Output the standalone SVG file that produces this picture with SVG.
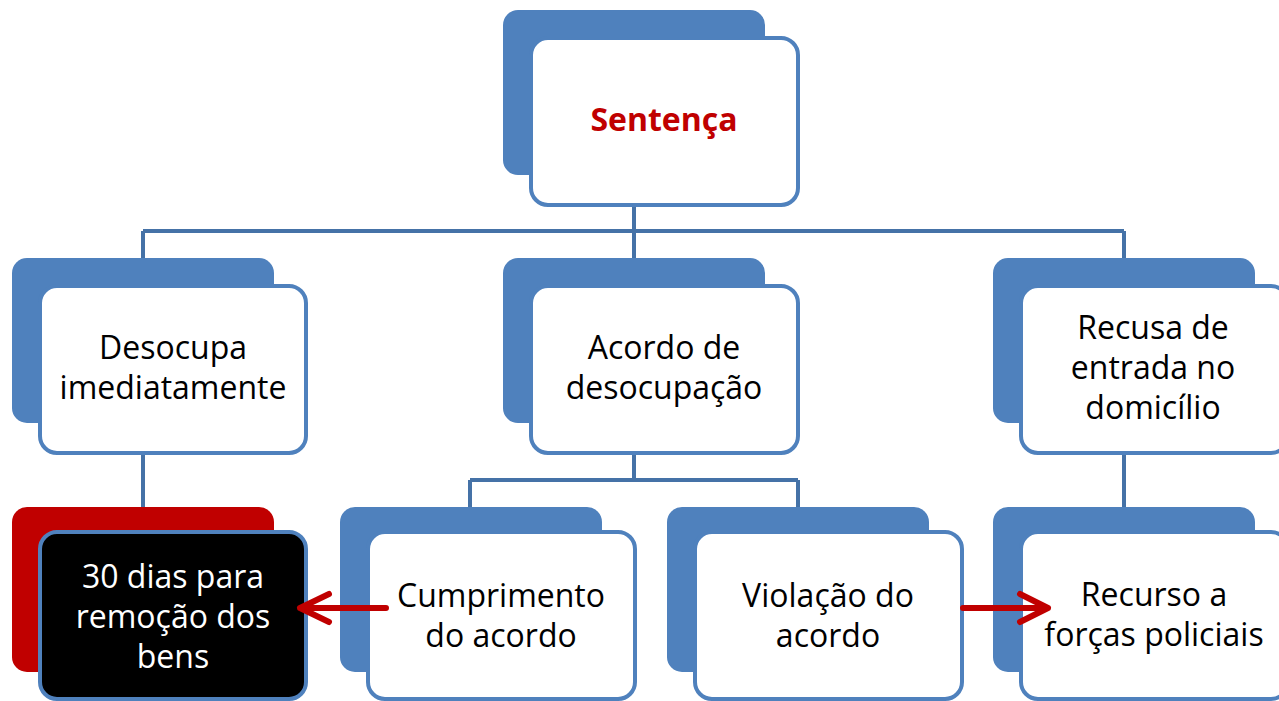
<svg xmlns="http://www.w3.org/2000/svg" width="1279" height="701" viewBox="0 0 1279 701">
<defs>
<style>
.back{fill:#4F81BD;}
.backred{fill:#C00000;}
.front{fill:#FFFFFF;stroke:#4F81BD;stroke-width:4;}
.frontdark{fill:#000000;stroke:#4F81BD;stroke-width:4;}
.conn{stroke:#4572A7;stroke-width:4;fill:none;}
.arrow{stroke:#C00000;stroke-width:6;fill:none;stroke-linecap:round;stroke-linejoin:round;}
text{font-family:"Open Sans","Liberation Sans",sans-serif;font-size:32px;text-anchor:middle;fill:#000;}
.title{font-weight:bold;fill:#C00000;}
.white{fill:#FFFFFF;}
</style>
</defs>
<rect width="1279" height="701" fill="#FFFFFF"/>
<g id="connectors">
<path class="conn" d="M634 207 V258 M143 231 H1124 M143 231 V258 M1124 231 V258"/>
<path class="conn" d="M143 455 V507 M1124 455 V507 M634 455 V480 M470 480 H798 M470 480 V507 M798 480 V507"/>
</g>
<g id="sentenca">
<rect class="back" x="503" y="10" width="262" height="165" rx="15"/>
<rect class="front" x="531" y="38" width="267" height="167" rx="17"/>
<text class="title" x="664" y="131">Sentença</text>
</g>
<g id="desocupa">
<rect class="back" x="12" y="258" width="262" height="165" rx="15"/>
<rect class="front" x="40" y="286" width="266" height="167" rx="17"/>
<text x="173" y="359">Desocupa</text>
<text x="173" y="399">imediatamente</text>
</g>
<g id="acordo">
<rect class="back" x="503" y="258" width="262" height="165" rx="15"/>
<rect class="front" x="531" y="286" width="267" height="167" rx="17"/>
<text x="664" y="359">Acordo de</text>
<text x="664" y="399">desocupação</text>
</g>
<g id="recusa">
<rect class="back" x="993" y="258" width="262" height="165" rx="15"/>
<rect class="front" x="1021" y="286" width="267" height="167" rx="17"/>
<text x="1153" y="339">Recusa de</text>
<text x="1153" y="379">entrada no</text>
<text x="1153" y="419">domicílio</text>
</g>
<g id="trinta-dias">
<rect class="backred" x="12" y="507" width="262" height="165" rx="15"/>
<rect class="frontdark" x="40" y="532" width="266" height="167" rx="17"/>
<text class="white" x="173" y="588">30 dias para</text>
<text class="white" x="173" y="628">remoção dos</text>
<text class="white" x="173" y="668">bens</text>
</g>
<g id="cumprimento">
<rect class="back" x="340" y="507" width="262" height="165" rx="15"/>
<rect class="front" x="368" y="532" width="267" height="167" rx="17"/>
<text x="501" y="607">Cumprimento</text>
<text x="501" y="647">do acordo</text>
</g>
<g id="violacao">
<rect class="back" x="667" y="507" width="262" height="165" rx="15"/>
<rect class="front" x="695" y="532" width="267" height="167" rx="17"/>
<text x="828" y="607">Violação do</text>
<text x="828" y="647">acordo</text>
</g>
<g id="recurso">
<rect class="back" x="993" y="507" width="262" height="165" rx="15"/>
<rect class="front" x="1021" y="532" width="267" height="167" rx="17"/>
<text x="1154" y="606">Recurso a</text>
<text x="1154" y="646">forças policiais</text>
</g>
<g id="arrows">
<path class="arrow" d="M386 608 H300 M329 594 L300 608 L329 622"/>
<path class="arrow" d="M963 608 H1048 M1020 594 L1048 608 L1020 622"/>
</g>
</svg>
